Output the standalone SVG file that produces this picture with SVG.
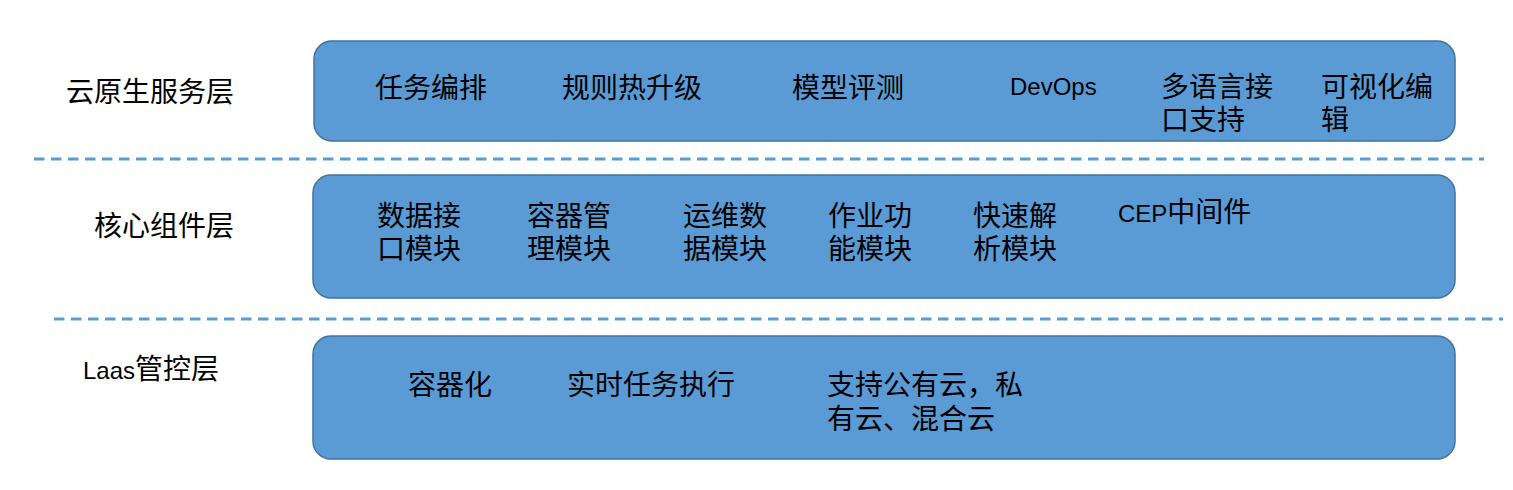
<svg xmlns="http://www.w3.org/2000/svg" width="1513" height="490" viewBox="0 0 1513 490">
<style>
.box{fill:#5B9BD5;stroke:#41719C;stroke-width:1.5}
.dash{stroke:#5B9BD5;stroke-width:3;stroke-dasharray:10.5 6.5;fill:none}
text{font-family:"Noto Sans CJK SC","Liberation Sans",sans-serif;font-size:28px;fill:#000}
.lat{font-family:"Liberation Sans","Noto Sans CJK SC",sans-serif;font-size:24px}
</style>
<rect width="1513" height="490" fill="#fff"/>
<g id="connectors">
<line class="dash" x1="34" y1="159" x2="1484" y2="159"/>
<line class="dash" x1="54" y1="319" x2="1503" y2="319"/>
</g>
<g id="label-cloud"><text x="66" y="102">云原生服务层</text></g>
<g id="label-core"><text x="94" y="236">核心组件层</text></g>
<g id="label-laas"><text x="83" y="379"><tspan class="lat">Laas</tspan>管控层</text></g>
<g id="layer-cloud">
<rect class="box" x="314" y="41" width="1141" height="100" rx="18"/>
<text x="375" y="98">任务编排</text>
<text x="562" y="98">规则热升级</text>
<text x="792" y="98">模型评测</text>
<text class="lat" x="1010" y="95">DevOps</text>
<text><tspan x="1161" y="97">多语言接</tspan><tspan x="1161" dy="33">口支持</tspan></text>
<text><tspan x="1321" y="97">可视化编</tspan><tspan x="1321" dy="33">辑</tspan></text>
</g>
<g id="layer-core">
<rect class="box" x="313" y="175" width="1142" height="123" rx="18"/>
<text><tspan x="377" y="226">数据接</tspan><tspan x="377" dy="33">口模块</tspan></text>
<text><tspan x="527" y="226">容器管</tspan><tspan x="527" dy="33">理模块</tspan></text>
<text><tspan x="683" y="226">运维数</tspan><tspan x="683" dy="33">据模块</tspan></text>
<text><tspan x="828" y="226">作业功</tspan><tspan x="828" dy="33">能模块</tspan></text>
<text><tspan x="973" y="226">快速解</tspan><tspan x="973" dy="33">析模块</tspan></text>
<text x="1118" y="222"><tspan class="lat">CEP</tspan>中间件</text>
</g>
<g id="layer-laas">
<rect class="box" x="313" y="336" width="1142" height="123" rx="18"/>
<text x="408" y="395">容器化</text>
<text x="567" y="395">实时任务执行</text>
<text><tspan x="827" y="395">支持公有云，私</tspan><tspan x="827" dy="34">有云、混合云</tspan></text>
</g>
</svg>
